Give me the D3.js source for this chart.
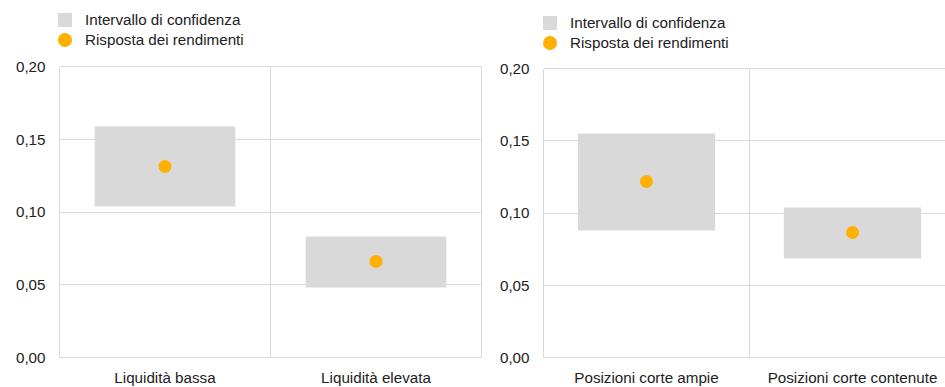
<!DOCTYPE html>
<html><head><meta charset="utf-8">
<script src="https://cdn.jsdelivr.net/npm/d3@7"></script>
<style>body{margin:0;background:#fff}svg{display:block;font-family:"Liberation Sans",Arial,sans-serif}</style>
</head><body><svg id="c" width="945" height="387"></svg>
<script>
const legendLabels = ["Intervallo di confidenza", "Risposta dei rendimenti"];
const yTicks = [0, 0.05, 0.10, 0.15, 0.20];
const catsA = ["Liquidità bassa", "Liquidità elevata"];
const lowA = [0.1038, 0.0481];
const highA = [0.1588, 0.0832];
const pointA = [0.1313, 0.0660];
const catsB = ["Posizioni corte ampie", "Posizioni corte contenute"];
const lowB = [0.0879, 0.0685];
const highB = [0.1550, 0.1038];
const pointB = [0.1218, 0.0865];

const svg = d3.select("#c");
const fmt = d => d3.format(".2f")(d).replace(".", ",");
const FS = 15.2;

function panel(cfg, cats, low, high, pt) {
  const g = svg.append("g");
  const x = d3.scaleBand().domain(cats).range([cfg.x0, cfg.x1]).paddingInner(0).paddingOuter(0);
  const y = d3.scaleLinear().domain([0, 0.2]).range([cfg.yb, cfg.yt]);
  const grid = "#d9d9d9";
  g.selectAll("line.h").data(yTicks).join("line")
    .attr("x1", cfg.x0).attr("x2", cfg.x1)
    .attr("y1", d => y(d)).attr("y2", d => y(d))
    .attr("stroke", grid).attr("stroke-width", 1).attr("shape-rendering", "crispEdges");
  const vx = [cfg.x0].concat(cats.map(c => x(c) + x.bandwidth()));
  g.selectAll("line.v").data(vx).join("line")
    .attr("x1", d => d).attr("x2", d => d)
    .attr("y1", cfg.yt).attr("y2", cfg.yb)
    .attr("stroke", grid).attr("stroke-width", 1).attr("shape-rendering", "crispEdges");
  g.selectAll("text.y").data(yTicks).join("text")
    .attr("x", cfg.x0 - 14).attr("y", d => y(d)).attr("dy", "0.35em")
    .attr("text-anchor", "end").attr("font-size", FS).attr("fill", "#222")
    .text(fmt);
  const bw = x.bandwidth() * 2 / 3;
  g.selectAll("rect.b").data(cats).join("rect")
    .attr("x", c => x(c) + (x.bandwidth() - bw) / 2)
    .attr("width", bw)
    .attr("y", (c, i) => y(high[i]))
    .attr("height", (c, i) => y(low[i]) - y(high[i]))
    .attr("fill", "#d9d9d9");
  g.selectAll("circle.p").data(cats).join("circle")
    .attr("cx", c => x(c) + x.bandwidth() / 2)
    .attr("cy", (c, i) => y(pt[i]))
    .attr("r", 6.5).attr("fill", "#ffb000");
  g.selectAll("text.c").data(cats).join("text")
    .attr("x", c => x(c) + x.bandwidth() / 2).attr("y", cfg.yb + 25)
    .attr("text-anchor", "middle").attr("font-size", FS).attr("fill", "#222")
    .text(c => c);
  const lg = g.append("g");
  lg.append("rect").attr("x", cfg.lx).attr("y", cfg.ly - 7).attr("width", 14).attr("height", 14).attr("fill", "#d9d9d9");
  lg.append("circle").attr("cx", cfg.lx + 7).attr("cy", cfg.ly + 20).attr("r", 7).attr("fill", "#ffb000");
  lg.selectAll("text").data(legendLabels).join("text")
    .attr("x", cfg.lx + 27).attr("y", (d, i) => cfg.ly + i * 20).attr("dy", "0.35em")
    .attr("font-size", FS).attr("fill", "#222").text(d => d);
}

panel({x0: 59.5, x1: 481.5, yt: 66.5, yb: 357.5, lx: 58, ly: 20}, catsA, lowA, highA, pointA);
panel({x0: 543.5, x1: 955.5, yt: 68.5, yb: 357.5, lx: 543, ly: 23}, catsB, lowB, highB, pointB);
</script></body></html>
